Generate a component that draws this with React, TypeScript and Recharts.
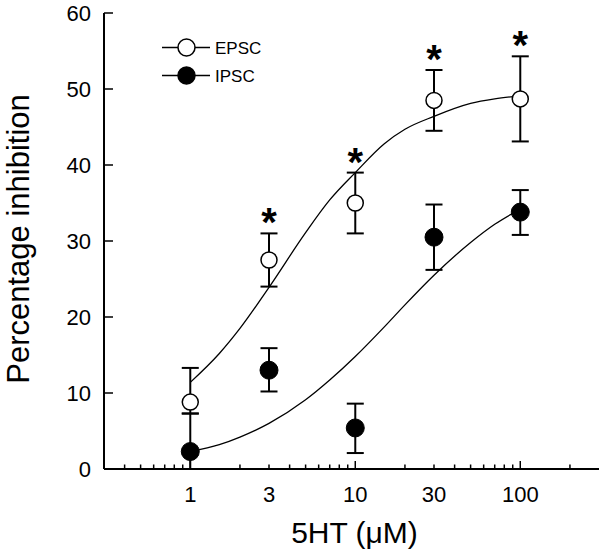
import React from 'react';
import {
  ComposedChart,
  Scatter,
  Line,
  XAxis,
  YAxis,
  ErrorBar,
  Customized,
} from 'recharts';

// 5HT concentration (µM)
const doses = [1, 3, 10, 30, 100];

// mean percentage inhibition, error as [below, above]
const epscMean = [8.8, 27.5, 35.0, 48.5, 48.7];
const epscErr = [[1.5, 4.5], [3.5, 3.5], [4.0, 4.0], [4.0, 4.0], [5.6, 5.6]];
const ipscMean = [2.3, 13.0, 5.4, 30.5, 33.8];
const ipscErr = [[2.3, 5.0], [2.8, 2.9], [3.3, 3.2], [4.3, 4.3], [3.0, 2.9]];

// asterisks above the EPSC points
const starDoses = [3, 10, 30, 100];
const starLevel = [33.4, 41.3, 54.9, 56.7];

// fitted curves
const curveDoses = [1, 1.5, 2, 3, 5, 7, 10, 15, 20, 30, 50, 70, 100];
const epscFit = [11.4, 15.2, 18.5, 23.9, 31.1, 35.4, 39.0, 42.8, 44.7, 46.4, 48.1, 48.7, 49.1];
const ipscFit = [2.3, 3.2, 4.2, 6.0, 9.1, 11.7, 14.8, 18.7, 21.6, 25.5, 29.8, 32.2, 34.2];

const xTicks = [
  0.4, 0.5, 0.6, 0.7, 0.8, 0.9, 1, 2, 3, 4, 5, 6, 7, 8, 9, 10,
  20, 30, 40, 50, 60, 70, 80, 90, 100, 200,
];
const xMajor = [1, 10, 100];
const xLabels = [1, 3, 10, 30, 100];
const yTicks = [0, 10, 20, 30, 40, 50, 60];

const seriesNames = ['EPSC', 'IPSC'];

const epscData = doses.map((x, i) => ({ x, y: epscMean[i], err: epscErr[i] }));
const ipscData = doses.map((x, i) => ({ x, y: ipscMean[i], err: ipscErr[i] }));
const starData = starDoses.map((x, i) => ({ x, y: starLevel[i] }));
const epscCurve = curveDoses.map((x, i) => ({ x, y: epscFit[i] }));
const ipscCurve = curveDoses.map((x, i) => ({ x, y: ipscFit[i] }));

const FONT = '"Liberation Sans", Arial, Helvetica, sans-serif';

const XTick = (props: any) => {
  const { x, y, payload } = props;
  const v = payload.value;
  const len = xMajor.includes(v) ? 8 : 4.5;
  return (
    <g>
      <line x1={x} x2={x} y1={y} y2={y - len} stroke="#000" strokeWidth={1.5} />
      {xLabels.includes(v) && (
        <text x={x} y={y + 33} textAnchor="middle" fontSize={22} fill="#000">
          {v}
        </text>
      )}
    </g>
  );
};

const YTick = (props: any) => {
  const { x, y, payload } = props;
  return (
    <g>
      <line x1={x} x2={x + 9} y1={y} y2={y} stroke="#000" strokeWidth={1.5} />
      <text x={x - 13} y={y + 7.8} textAnchor="end" fontSize={22} fill="#000">
        {payload.value}
      </text>
    </g>
  );
};

const yLabel = (props: any) => {
  const vb = props.viewBox;
  const px = vb.x + 29;
  const py = vb.y + vb.height / 2 - 2;
  return (
    <text
      x={px}
      y={py}
      transform={`rotate(-90 ${px} ${py})`}
      textAnchor="middle"
      fontSize={31}
      fill="#000"
    >
      Percentage inhibition
    </text>
  );
};

const xLabel = (props: any) => {
  const vb = props.viewBox;
  return (
    <text
      x={vb.x + vb.width / 2 + 3}
      y={vb.y + 74}
      textAnchor="middle"
      fontSize={30}
      fill="#000"
    >
      5HT (μM)
    </text>
  );
};

const OpenDot = (props: any) => (
  <circle cx={props.cx} cy={props.cy} r={8} fill="#fff" stroke="#000" strokeWidth={1.5} />
);
const FilledDot = (props: any) => (
  <circle cx={props.cx} cy={props.cy} r={9} fill="#000" stroke="#000" strokeWidth={1} />
);
const Star = (props: any) => (
  <text
    x={props.cx}
    y={props.cy + 21}
    textAnchor="middle"
    fontSize={40}
    fontWeight="bold"
    fill="#000"
  >
    *
  </text>
);

// legend drawn inside the plot, top left
const LegendBox = () => (
  <g transform="translate(161 47.5)">
    {seriesNames.map((name, i) => {
      const cy = i * 28;
      return (
        <g key={name}>
          <line x1={1} x2={49} y1={cy} y2={cy} stroke="#000" strokeWidth={1.5} />
          <circle
            cx={25.5}
            cy={cy}
            r={8.5}
            fill={i === 0 ? '#fff' : '#000'}
            stroke="#000"
            strokeWidth={1.5}
          />
          <text x={54} y={cy + 6} fontSize={17} fill="#000">
            {name}
          </text>
        </g>
      );
    })}
  </g>
);

export default function App() {
  return (
    <div style={{ position: 'absolute', left: 0, top: 0, background: '#fff' }}>
      <ComposedChart
        width={600}
        height={558}
        margin={{ top: 13, right: 1, bottom: 0, left: 0 }}
        style={{ fontFamily: FONT }}
      >
        <XAxis
          dataKey="x"
          type="number"
          scale="log"
          domain={[0.3, 300]}
          allowDataOverflow
          ticks={xTicks}
          interval={0}
          height={89}
          tickSize={0}
          tickMargin={0}
          tickLine={false}
          tick={<XTick />}
          axisLine={{ stroke: '#000', strokeWidth: 2 }}
          label={xLabel}
        />
        <YAxis
          dataKey="y"
          type="number"
          domain={[0, 60]}
          ticks={yTicks}
          interval={0}
          width={104}
          tickSize={0}
          tickMargin={0}
          tickLine={false}
          tick={<YTick />}
          axisLine={{ stroke: '#000', strokeWidth: 2 }}
          label={yLabel}
        />
        <Line
          data={epscCurve}
          dataKey="y"
          type="monotone"
          stroke="#000"
          strokeWidth={1.3}
          dot={false}
          activeDot={false}
          isAnimationActive={false}
        />
        <Line
          data={ipscCurve}
          dataKey="y"
          type="monotone"
          stroke="#000"
          strokeWidth={1.3}
          dot={false}
          activeDot={false}
          isAnimationActive={false}
        />
        <Scatter data={ipscData} shape={<FilledDot />} isAnimationActive={false}>
          <ErrorBar dataKey="err" direction="y" width={8.5} stroke="#000" strokeWidth={2} />
        </Scatter>
        <Scatter data={epscData} shape={<OpenDot />} isAnimationActive={false}>
          <ErrorBar dataKey="err" direction="y" width={8.5} stroke="#000" strokeWidth={2} />
        </Scatter>
        <Scatter data={starData} shape={<Star />} isAnimationActive={false} />
        <Customized component={LegendBox} />
      </ComposedChart>
    </div>
  );
}
